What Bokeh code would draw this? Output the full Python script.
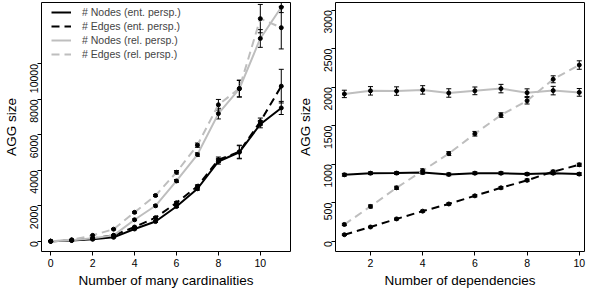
import math
from bokeh.plotting import figure
from bokeh.layouts import row
from bokeh.models import (ColumnDataSource, Range1d, FixedTicker, Legend, LegendItem,
                          Whisker, TeeHead)
from bokeh.embed import file_html
from bokeh.resources import INLINE

# ---------------- data: left panel ----------------
x_left = [0, 1, 2, 3, 4, 5, 6, 7, 8, 9, 10, 11]
nodes_ent_L = [0, 40, 110, 220, 690, 1110, 1960, 2960, 4500, 5020, 6600, 7520]
edges_ent_L = [0, 50, 150, 330, 800, 1330, 2170, 3100, 4600, 5050, 6750, 8750]
nodes_rel_L = [0, 60, 170, 330, 1210, 2000, 3400, 4890, 7200, 8600, 11440, 13200]
edges_rel_L = [0, 80, 330, 680, 1630, 2580, 3890, 5420, 7700, 8620, 12560, 12050]
nodes_ent_L_err = [10, 15, 20, 30, 40, 50, 60, 80, 150, 370, 200, 370]
edges_ent_L_err = [10, 15, 20, 30, 40, 50, 60, 80, 150, 370, 200, 950]
nodes_rel_L_err = [10, 15, 20, 30, 50, 60, 80, 100, 300, 470, 500, 300]
edges_rel_L_err = [10, 15, 20, 40, 50, 60, 100, 120, 300, 470, 800, 1200]

# ---------------- data: right panel ----------------
x_right = [1, 2, 3, 4, 5, 6, 7, 8, 9, 10]
nodes_ent_R = [863, 884, 885, 892, 868, 884, 884, 872, 884, 872]
edges_ent_R = [85, 185, 290, 391, 484, 590, 694, 791, 904, 993]
nodes_rel_R = [1913, 1953, 1950, 1965, 1925, 1953, 1982, 1929, 1956, 1933]
edges_rel_R = [218, 452, 694, 916, 1138, 1396, 1638, 1824, 2103, 2288]
nodes_ent_R_err = [18, 18, 18, 20, 18, 18, 18, 18, 18, 18]
edges_ent_R_err = [10, 10, 12, 12, 14, 14, 15, 16, 18, 20]
nodes_rel_R_err = [48, 55, 55, 55, 55, 50, 55, 50, 55, 50]
edges_rel_R_err = [15, 20, 20, 25, 25, 30, 30, 42, 45, 55]

legend_labels = ["# Nodes (ent. persp.)", "# Edges (ent. persp.)",
                 "# Nodes (rel. persp.)", "# Edges (rel. persp.)"]

BLACK = "#000000"
GRAY = "#BEBEBE"
DASH = "8 5"
FONT = "Liberation Sans"


def style(p, xticks, yticks):
    p.xgrid.visible = False
    p.ygrid.visible = False
    p.outline_line_color = "black"
    p.outline_line_width = 1
    p.background_fill_color = "white"
    p.border_fill_color = "white"
    for ax in (p.xaxis[0], p.yaxis[0]):
        ax.axis_line_color = None
        ax.major_tick_out = 4
        ax.major_tick_in = 0
        ax.minor_tick_out = 0
        ax.minor_tick_in = 0
        ax.major_label_text_font = FONT
        ax.major_label_text_font_size = "10.5px"
        ax.major_label_text_color = "black"
        ax.axis_label_text_font = FONT
        ax.axis_label_text_font_size = "13.5px"
        ax.axis_label_text_font_style = "normal"
        ax.axis_label_text_color = "black"
        ax.major_tick_line_color = "black"
    p.xaxis[0].ticker = FixedTicker(ticks=xticks)
    p.yaxis[0].ticker = FixedTicker(ticks=yticks)
    p.xaxis[0].major_label_standoff = 3
    p.xaxis[0].axis_label_standoff = 3
    p.yaxis[0].major_label_orientation = math.pi / 2
    p.yaxis[0].major_label_standoff = 3
    p.yaxis[0].axis_label_standoff = 5


def series(p, xs, ys, errs, color, dash):
    src = ColumnDataSource(dict(x=xs, y=ys,
                                lo=[a - b for a, b in zip(ys, errs)],
                                hi=[a + b for a, b in zip(ys, errs)]))
    r = p.line("x", "y", source=src, line_color=color, line_width=2,
               line_dash=dash)
    return r, src


def decorate(p, srcs):
    for src in srcs:
        w = Whisker(base="x", lower="lo", upper="hi", source=src,
                    dimension="height", line_color="black", line_width=1,
                    upper_head=TeeHead(size=5, line_color="black", line_width=1),
                    lower_head=TeeHead(size=5, line_color="black", line_width=1))
        p.add_layout(w)
    for src in srcs:
        p.scatter("x", "y", source=src, size=4, color="black")


# ---------------- left figure ----------------
p1 = figure(width=292, height=290, output_backend="svg", toolbar_location=None,
            x_range=Range1d(-0.44, 11.44), y_range=Range1d(-580, 13470),
            min_border_left=39, min_border_right=2, min_border_top=2,
            min_border_bottom=35)
style(p1, [0, 2, 4, 6, 8, 10], [0, 2000, 4000, 6000, 8000, 10000])
p1.xaxis[0].axis_label = "Number of many cardinalities"
p1.yaxis[0].axis_label = "AGG size"

rL = []
sL = []
for ys, errs, col, dash in [(nodes_ent_L, nodes_ent_L_err, BLACK, "solid"),
                            (edges_ent_L, edges_ent_L_err, BLACK, DASH),
                            (nodes_rel_L, nodes_rel_L_err, GRAY, "solid"),
                            (edges_rel_L, edges_rel_L_err, GRAY, DASH)]:
    r, s = series(p1, x_left, ys, errs, col, dash)
    rL.append(r)
    sL.append(s)
decorate(p1, sL)

legend = Legend(items=[LegendItem(label=lab, renderers=[r]) for lab, r in zip(legend_labels, rL)],
                location=(10, 190), border_line_alpha=0, background_fill_alpha=0,
                label_text_font=FONT, label_text_font_size="10.5px",
                glyph_width=20, glyph_height=14, label_height=14,
                label_standoff=11, spacing=0, padding=0, margin=0)
p1.add_layout(legend)

# ---------------- right figure ----------------
p2 = figure(width=296, height=290, output_backend="svg", toolbar_location=None,
            x_range=Range1d(0.66, 10.2), y_range=Range1d(-133, 3100),
            min_border_left=43, min_border_right=4, min_border_top=2,
            min_border_bottom=35)
style(p2, [2, 4, 6, 8, 10], [0, 500, 1000, 1500, 2000, 2500, 3000])
p2.xaxis[0].axis_label = "Number of dependencies"
p2.yaxis[0].axis_label = "AGG size"

sR = []
for ys, errs, col, dash in [(nodes_ent_R, nodes_ent_R_err, BLACK, "solid"),
                            (edges_ent_R, edges_ent_R_err, BLACK, DASH),
                            (nodes_rel_R, nodes_rel_R_err, GRAY, "solid"),
                            (edges_rel_R, edges_rel_R_err, GRAY, DASH)]:
    r, s = series(p2, x_right, ys, errs, col, dash)
    sR.append(s)
decorate(p2, sR)

layout = row(p1, p2)
open("out.html", "w").write(file_html(layout, INLINE))
